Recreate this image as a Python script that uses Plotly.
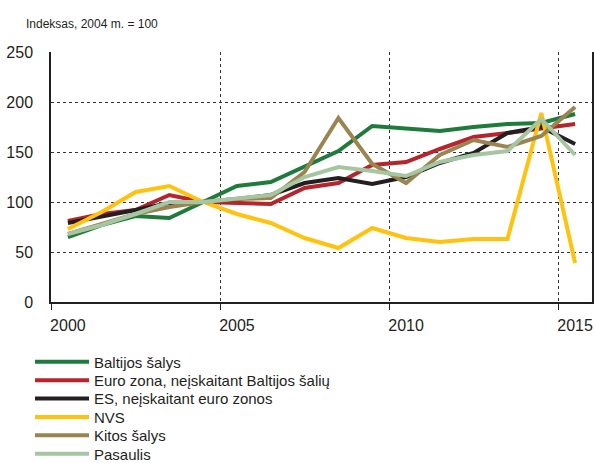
import plotly.graph_objects as go

years = list(range(2000, 2016))
baltijos = [65, 77, 86, 84, 100, 116, 120, 135, 151, 176, 174, 171, 175, 178, 179, 188]
euro = [81, 88, 92, 107, 100, 99, 98, 114, 119, 137, 140, 153, 165, 169, 174, 178]
es = [79, 85, 92, 99, 100, 103, 107, 119, 124, 118, 125, 139, 149, 169, 175, 158]
nvs = [73, 90, 110, 116, 100, 88, 79, 64, 54, 74, 64, 60, 63, 63, 189, 39]
kitos = [68, 78, 88, 95, 100, 103, 104, 130, 184, 138, 119, 147, 162, 155, 166, 195]
pasaulis = [68, 77, 88, 100, 100, 103, 107, 125, 135, 131, 126, 140, 147, 151, 183, 147]

series_names = ["Baltijos šalys", "Euro zona, neįskaitant Baltijos šalių",
                "ES, neįskaitant euro zonos", "NVS", "Kitos šalys", "Pasaulis"]
series_vals = [baltijos, euro, es, nvs, kitos, pasaulis]
colors = ["#1e7b3c", "#b5252b", "#231f20", "#ffc20e", "#9a8451", "#a6c6a2"]

x_tick_labels = ["2000", "2005", "2010", "2015"]
x_tick_years = [2000, 2005, 2010, 2015]

FONT = "Liberation Sans, Arial, sans-serif"

# layout geometry (pixels)
W, H = 594, 463
L, R, T, B = 51, 2, 52, 161
plot_h = H - T - B
legend_rows_px = [362, 380.4, 398.8, 417.2, 435.6, 454.0]

xs = [y + 0.5 for y in years]
fig = go.Figure()
legend_ids = ["legend", "legend2", "legend3", "legend4", "legend5", "legend6"]
for name, vals, c, lid in zip(series_names, series_vals, colors, legend_ids):
    fig.add_trace(go.Scatter(x=xs, y=vals, mode="lines", name=name,
                             line=dict(color=c, width=4), legend=lid))

legend_layout = {}
for lid, ypx in zip(legend_ids, legend_rows_px):
    legend_layout[lid] = dict(
        x=(30 - L) / (W - L - R), y=(H - B - ypx) / plot_h,
        xanchor="left", yanchor="middle", orientation="v",
        font=dict(size=15, family=FONT, color="#231f20"), itemwidth=54,
        bgcolor="rgba(0,0,0,0)", borderwidth=0,
    )

fig.update_layout(
    width=W, height=H,
    margin=dict(l=L, r=R, t=T, b=B, autoexpand=False),
    paper_bgcolor="white", plot_bgcolor="white",
    font=dict(family=FONT, color="#231f20", size=16),
    showlegend=True,
    annotations=[dict(text="Indeksas, 2004 m. = 100", xref="paper", yref="paper",
                      x=(24 - L) / (W - L - R), y=1.0, xanchor="left", yanchor="bottom",
                      yshift=19, showarrow=False,
                      font=dict(size=12, family=FONT, color="#231f20"))],
    **legend_layout,
)
fig.update_xaxes(
    range=[2000, 2016], showgrid=False, zeroline=False,
    tickvals=[y + 0.5 for y in x_tick_years], ticktext=x_tick_labels,
    ticks="", showline=True, linecolor="#231f20", linewidth=1.5,
    tickfont=dict(size=16), ticklabelstandoff=8,
    minor=dict(tickvals=x_tick_years, ticks="outside", ticklen=6, tickcolor="#231f20",
               tickwidth=1.2,
               showgrid=True, gridcolor="#333333", griddash="dot", gridwidth=1),
)
fig.update_yaxes(
    range=[0, 250], tickvals=[0, 50, 100, 150, 200, 250],
    showgrid=True, gridcolor="#333333", griddash="dot", gridwidth=1,
    zeroline=False, showline=True, mirror=True, linecolor="#231f20", linewidth=1.5,
    ticks="", tickfont=dict(size=16), ticklabelstandoff=13,
)
fig.write_html("out.html", config={"displayModeBar": False},
               post_script="document.body.style.margin='0';document.body.style.padding='0';")
